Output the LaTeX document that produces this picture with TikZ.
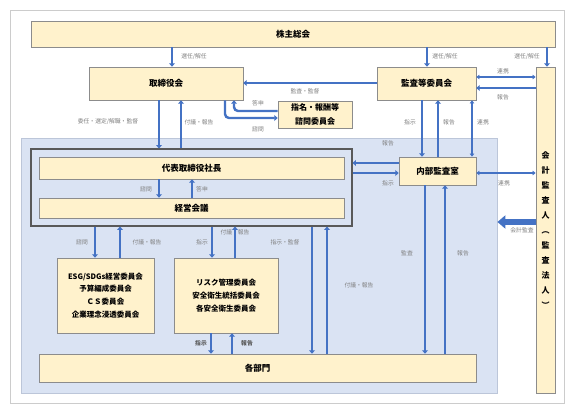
\documentclass[tikz,border=0pt]{standalone}
\usepackage{fontspec}
\setmainfont{Noto Sans CJK JP}
\usetikzlibrary{arrows.meta}
\definecolor{cream}{HTML}{FFF2CC}
\definecolor{boxline}{HTML}{8C8C8C}
\definecolor{bluebg}{HTML}{DAE3F3}
\definecolor{bluebd}{HTML}{BCC6D9}
\definecolor{arrowblue}{HTML}{4472C4}
\definecolor{lblgray}{HTML}{808080}
\definecolor{framegray}{HTML}{595959}
\begin{document}
\begin{tikzpicture}[x=1pt,y=-1pt,
  box/.style={draw=boxline, fill=cream, line width=0.8pt, inner sep=0pt, align=center,
    font=\fontsize{8.5}{10}\selectfont\bfseries},
  arr/.style={draw=arrowblue, line width=2.4pt, -{Triangle[length=3.2pt,width=5.8pt]}},
  dbl/.style={draw=arrowblue, line width=1.2pt, {Triangle[length=3pt,width=4.5pt]}-{Triangle[length=3pt,width=4.5pt]}},
  big/.style={draw=arrowblue, line width=6pt, -{Triangle[length=8pt,width=13pt]}},
  lbl/.style={text=lblgray, inner sep=0pt, font=\fontsize{5.8}{6}\selectfont},
  lblb/.style={text=framegray, inner sep=0pt, font=\fontsize{5.8}{6}\selectfont\bfseries}
]
\useasboundingbox (0,0) rectangle (565,404);
\fill[white] (0,0) rectangle (565,404);
\draw[draw=black!20, line width=0.8pt] (10.5,10.5) rectangle (564.5,403.5);

% blue region and inner frame
\node[draw=bluebd, fill=bluebg, line width=0.8pt, minimum width=476pt, minimum height=255pt, inner sep=0pt] (blue) at (259,265.5) {};
\node[draw=framegray, line width=1.3pt, minimum width=321pt, minimum height=77pt, inner sep=0pt] (inner) at (191.5,187.5) {};

% boxes
\node[box, minimum width=524pt, minimum height=26pt] (kabu) at (293,34) {株主総会};
\node[box, minimum width=154pt, minimum height=33pt] (tori) at (166,83.5) {取締役会};
\node[box, minimum width=99pt, minimum height=33pt] (kansa) at (426.5,83.5) {監査等委員会};
\node[box, minimum width=19pt, minimum height=326pt, font=\fontsize{8}{15}\selectfont\bfseries] (kaikei) at (545.5,230)
  {会\\計\\監\\査\\人\\︵\\監\\査\\法\\人\\︶};
\node[box, minimum width=74pt, minimum height=27pt, font=\fontsize{8}{14}\selectfont\bfseries] (shimei) at (315,114.5) {指名・報酬等\\諮問委員会};
\node[box, minimum width=305pt, minimum height=22pt] (pres) at (191.5,168) {代表取締役社長};
\node[box, minimum width=305pt, minimum height=20pt] (keiei) at (191.5,208) {経営会議};
\node[box, minimum width=77pt, minimum height=28pt] (naibu) at (437.5,171) {内部監査室};
\node[box, minimum width=97pt, minimum height=75pt, font=\fontsize{7.5}{12.8}\selectfont\bfseries] (esg) at (105.5,295.5)
  {ESG/SDGs経営委員会\\予算編成委員会\\ＣＳ委員会\\企業理念浸透委員会};
\node[box, minimum width=104pt, minimum height=75pt, font=\fontsize{7.5}{12.8}\selectfont\bfseries] (risk) at (226,295.5)
  {リスク管理委員会\\安全衛生統括委員会\\各安全衛生委員会};
\node[box, minimum width=437pt, minimum height=28pt] (bumon) at (257.5,368) {各部門};

% helper columns and rows
\foreach \x in {95,120,159,172,181,192,211,212,225,232,234,235,312,327,422,425,427,438,445,472,547}
  \coordinate (c\x) at (\x,0);
\foreach \y in {77,83,88,111,118,163,173,222}
  \coordinate (r\y) at (0,\y);

% 株主総会
\draw[arr] (kabu.south -| c172) -- (tori.north -| c172);
\draw[arr] (kabu.south -| c427) -- (kansa.north -| c427);
\draw[arr] (kabu.south -| c547) -- (kaikei.north -| c547);
\node[lbl] (l1) at (194,57) {選任/解任};
\node[lbl] (l2) at (445,57) {選任/解任};
\node[lbl] (l3) at (527,57) {選任/解任};

% 監査等委員会
\draw[arr] (kansa.west |- r83) -- (tori.east |- r83);
\node[lbl] (l4) at (305,91) {監査・監督};
\draw[dbl] (kansa.east |- r77) -- (kaikei.west |- r77);
\node[lbl] (l5) at (503,71) {連携};
\draw[arr] (kaikei.west |- r88) -- (kansa.east |- r88);
\node[lbl] (l6) at (503,97) {報告};

% 指名・報酬等諮問委員会
\draw[arr, rounded corners=4pt] (tori.south -| c225) |- (shimei.west |- r118);
\draw[arr, rounded corners=4pt] (shimei.west |- r111) -| (tori.south -| c234);
\node[lbl] (l7) at (258,103) {答申};
\node[lbl] (l8) at (258,129) {諮問};

% 取締役会 <-> 代表取締役
\draw[arr] (tori.south -| c159) -- (inner.north -| c159);
\draw[arr] (inner.north -| c181) -- (tori.south -| c181);
\node[lbl] (l9) at (108,122) {委任・選定/解職・監督};
\node[lbl] (l10) at (199,122) {付議・報告};

% 監査等委員会 <-> 内部監査室
\draw[arr] (kansa.south -| c422) -- (naibu.north -| c422);
\draw[arr] (naibu.north -| c438) -- (kansa.south -| c438);
\draw[dbl] (kansa.south -| c472) -- (naibu.north -| c472);
\node[lbl] (l11) at (410,122) {指示};
\node[lbl] (l12) at (449,122) {報告};
\node[lbl] (l13) at (483,122) {連携};

% 内部監査室 <-> 代表取締役
\draw[arr] (naibu.west |- r163) -- (inner.east |- r163);
\draw[arr] (inner.east |- r173) -- (naibu.west |- r173);
\node[lbl] (l14) at (388,143) {報告};
\node[lbl] (l15) at (388,183) {指示};

% 会計監査人
\draw[dbl] (naibu.east |- r173) -- (kaikei.west |- r173);
\node[lbl] (l16) at (504,183) {連携};
\draw[big] (kaikei.west |- r222) -- (blue.east |- r222);
\node[lbl] (l17) at (522,230) {会計監査};

% 内部監査室 <-> 各部門
\draw[arr] (naibu.south -| c425) -- (bumon.north -| c425);
\draw[arr] (bumon.north -| c445) -- (naibu.south -| c445);
\node[lbl] (l18) at (407,253) {監査};
\node[lbl] (l19) at (463,253) {報告};

% 代表取締役 <-> 各部門
\draw[arr] (inner.south -| c312) -- (bumon.north -| c312);
\draw[arr] (bumon.north -| c327) -- (inner.south -| c327);
\node[lbl] (l20) at (285,242) {指示・監督};
\node[lbl] (l21) at (359,285) {付議・報告};

% 代表取締役社長 <-> 経営会議
\draw[arr] (pres.south -| c159) -- (keiei.north -| c159);
\draw[arr] (keiei.north -| c192) -- (pres.south -| c192);
\node[lbl] (l22) at (146,189) {諮問};
\node[lbl] (l23) at (202,189) {答申};

% inner frame <-> ESG, リスク
\draw[arr] (inner.south -| c95) -- (esg.north -| c95);
\draw[arr] (esg.north -| c120) -- (inner.south -| c120);
\node[lbl] (l24) at (82,242) {諮問};
\node[lbl] (l25) at (147,242) {付議・報告};
\node[lbl] (l27) at (235,232) {付議・報告};
\draw[arr] (inner.south -| c212) -- (risk.north -| c212);
\draw[arr] (risk.north -| c235) -- (inner.south -| c235);
\node[lbl] (l26) at (202,242) {指示};

% リスク <-> 各部門
\draw[arr] (risk.south -| c211) -- (bumon.north -| c211);
\draw[arr] (bumon.north -| c232) -- (risk.south -| c232);
\node[lblb] (l28) at (201,343) {指示};
\node[lblb] (l29) at (247,343) {報告};
\end{tikzpicture}
\end{document}
